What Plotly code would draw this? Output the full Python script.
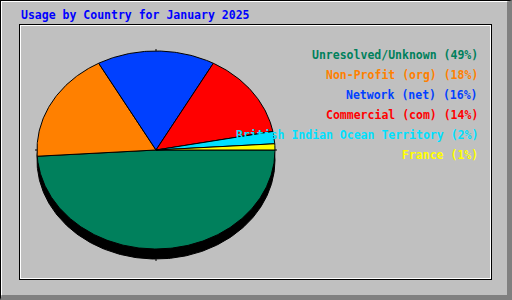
import numpy as np
import plotly.graph_objects as go

title = "Usage by Country for January 2025"
labels = ["Unresolved/Unknown", "Non-Profit (org)", "Network (net)",
          "Commercial (com)", "British Indian Ocean Territory", "France"]
percents = [49, 18, 16, 14, 2, 1]
colors = ["#00805c", "#ff8000", "#0040ff", "#ff0000", "#00e0ff", "#ffff00"]

W, H = 512, 300
cx, cy, rx, ry, depth = 156, 150, 119, 99, 10
FONT = "DejaVu Sans Mono"

fig = go.Figure()

# shadow (depth) ellipse
t = np.linspace(0, 2 * np.pi, 400)
fig.add_trace(go.Scatter(x=cx + rx * np.cos(t), y=cy + depth + ry * np.sin(t),
                         fill="toself", fillcolor="black", mode="lines",
                         line=dict(color="black", width=1), hoverinfo="skip"))

# slices
total = float(sum(percents))
start = 0.0
for lab, p, c in zip(labels, percents, colors):
    span = 2 * np.pi * p / total
    n = max(4, int(span * 80))
    a = np.linspace(start, start + span, n)
    xs = np.concatenate([[cx], cx + rx * np.cos(a), [cx]])
    ys = np.concatenate([[cy], cy + ry * np.sin(a), [cy]])
    fig.add_trace(go.Scatter(x=xs, y=ys, fill="toself", fillcolor=c, mode="lines",
                             line=dict(color="black", width=1), name=lab,
                             hoverinfo="name"))
    start += span

shapes = []
def line(x0, y0, x1, y1, color, w=1):
    shapes.append(dict(type="line", xref="x", yref="y", x0=x0, y0=y0, x1=x1, y1=y1,
                       line=dict(color=color, width=w)))
def rect(x0, y0, x1, y1, color):
    shapes.append(dict(type="rect", xref="x", yref="y", x0=x0, y0=y0, x1=x1, y1=y1,
                       fillcolor=color, line=dict(width=0), layer="below"))

# outer frame
line(0, 0.5, 512, 0.5, "black")
line(0.5, 0, 0.5, 300, "black")
line(1, 1.5, 507, 1.5, "white")
line(1.5, 1, 1.5, 295, "white")
shapes.append(dict(type="path", xref="x", yref="y",
                   path="M 507 2 L 512 0 L 512 300 L 0 300 L 2 295 L 507 295 Z",
                   fillcolor="#808080", line=dict(width=0)))
# inner panel
line(19, 24.5, 492, 24.5, "black")
line(19.5, 24, 19.5, 280, "black")
line(20, 25.5, 491, 25.5, "white")
line(20.5, 25, 20.5, 279, "white")
line(490.5, 25, 490.5, 279, "white")
line(20, 278.5, 491, 278.5, "white")
line(491.5, 24, 491.5, 280, "black")
line(19, 279.5, 492, 279.5, "black")
# small tick marks around the ellipse
line(cx, cy - ry - 2, cx, cy - ry, "black")
line(cx, cy + ry + depth, cx, cy + ry + depth + 2, "black")
line(cx - rx - 2, cy, cx - rx, cy, "black")
line(cx + rx, cy, cx + rx + 2, cy, "black")

annotations = [dict(x=19, y=15, xref="x", yref="y", text=title, showarrow=False,
                    xanchor="left", yanchor="middle",
                    font=dict(family=FONT, size=11.5, color="#0000ff", weight="bold"))]
for i, (lab, p, c) in enumerate(zip(labels, percents, colors)):
    annotations.append(dict(x=480, y=55 + 20 * i, xref="x", yref="y",
                            text=f"{lab} ({p}%)", showarrow=False,
                            xanchor="right", yanchor="middle",
                            font=dict(family=FONT, size=11.5, color=c, weight="bold")))

fig.update_layout(width=W, height=H, margin=dict(l=0, r=0, t=0, b=0, pad=0),
                  paper_bgcolor="#c0c0c0", plot_bgcolor="#c0c0c0", showlegend=False,
                  xaxis=dict(range=[0, W], visible=False, fixedrange=True),
                  yaxis=dict(range=[H, 0], visible=False, fixedrange=True),
                  shapes=shapes, annotations=annotations)

fig.write_html("out.html", config={"displayModeBar": False})
